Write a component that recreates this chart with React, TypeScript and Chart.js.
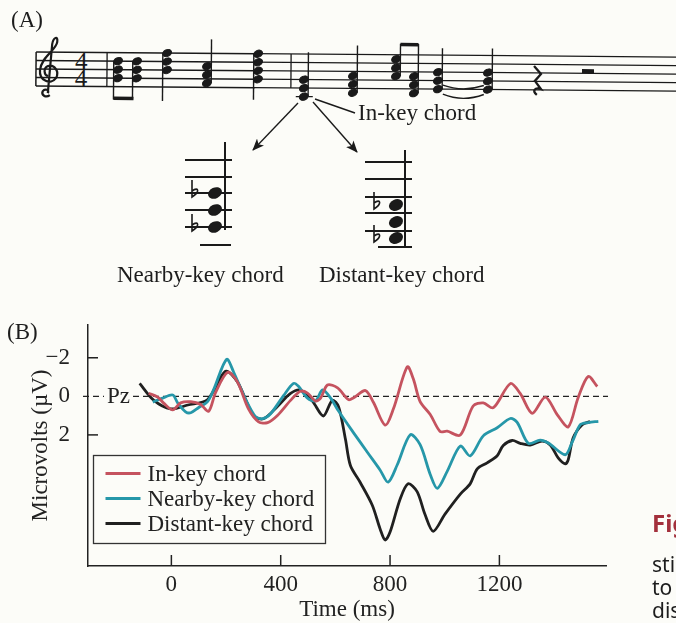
import React, { useEffect, useRef } from "react";
import { Chart, registerables } from "chart.js";

Chart.register(...registerables);

// ---------- data ----------
const seriesNames = ["In-key chord", "Nearby-key chord", "Distant-key chord"];
const seriesColors = ["#c5535f", "#2697a9", "#202020"];

const inKeyTime = [-83, -50, -28, 5, 34, 71, 107, 136, 162, 206, 242, 282, 319, 352, 388, 436, 472, 498, 527, 546, 571, 608, 648, 667, 710, 739, 782, 812, 863, 885, 910, 947, 983, 1009, 1057, 1104, 1141, 1178, 1240, 1276, 1320, 1368, 1412, 1452, 1488, 1525, 1558];
const inKeyUv = [-0.16, 0.04, 0.35, 0.7, 0.34, 0.28, 0.42, 0.78, -0.21, -1.25, -0.74, 0.65, 1.32, 1.36, 0.99, 0.21, -0.26, -0.17, 0.24, 0.09, -0.59, -0.44, 0.17, 0.07, -0.3, 0.31, 1.49, 0.66, -1.53, -0.91, 0.27, 0.94, 1.82, 1.81, 2.01, 0.5, 0.34, 0.59, -0.66, -0.15, 0.88, 0.04, 0.96, 1.58, 0.07, -1.03, -0.51];

const nearbyTime = [-68, -32, 5, 23, 52, 71, 100, 133, 155, 202, 228, 271, 308, 334, 363, 411, 447, 465, 498, 527, 553, 582, 611, 666, 717, 764, 793, 826, 874, 910, 947, 973, 1009, 1057, 1093, 1141, 1192, 1240, 1265, 1306, 1349, 1379, 1441, 1467, 1496, 1525, 1562];
const nearbyUv = [0.3, 0.09, -0.07, 0.34, 0.8, 0.85, 0.58, 0.26, -0.36, -1.92, -1.25, 0.13, 1.06, 1.16, 0.9, -0.05, -0.67, -0.52, 0.09, 0.24, -0.33, 0.08, 0.75, 1.88, 2.9, 3.83, 4.45, 3.56, 1.99, 2.51, 4.05, 4.77, 3.89, 2.58, 3.09, 2.05, 1.63, 1.15, 1.35, 2.44, 2.27, 2.42, 3.03, 2.35, 1.47, 1.36, 1.3];

const distantTime = [-116, -65, -3, 60, 133, 198, 242, 300, 337, 388, 436, 472, 516, 556, 589, 612, 637, 655, 691, 735, 764, 782, 800, 837, 866, 899, 928, 958, 1001, 1057, 1093, 1119, 1155, 1192, 1214, 1247, 1276, 1313, 1356, 1386, 1415, 1441, 1452, 1470, 1503, 1532];
const distantUv = [-0.67, 0.2, 0.65, 0.45, 0.16, -1.3, -0.74, 1.0, 1.16, 0.53, -0.15, -0.32, 0.25, 1.02, 0.2, 0.55, 2.24, 3.59, 4.47, 5.65, 6.89, 7.45, 7.04, 5.32, 4.53, 4.94, 6.13, 7.0, 6.11, 5.07, 4.54, 3.76, 3.45, 3.08, 2.55, 2.29, 2.44, 2.53, 2.32, 2.52, 3.19, 3.5, 3.28, 2.15, 1.47, 1.31];

const xTicks = [0, 400, 800, 1200];
const yTicks = [-2, 0, 2];
const xMin = -305;
const xMax = 1590;
const yMin = -3.7;
const yMax = 8.8;
const baselineLabel = "Pz";
const xTitle = "Time (ms)";
const yTitle = "Microvolts (\u00b5V)";

const BG = "#fcfcf8";
const INK = "#222";
const SERIF = "'Liberation Serif', 'Times New Roman', serif";

const extrasPlugin = {
  id: "extras",
  beforeDatasetsDraw(chart: any) {
    const { ctx, chartArea, scales } = chart;
    const y0 = scales.y.getPixelForValue(0);
    ctx.save();
    ctx.strokeStyle = INK;
    ctx.lineWidth = 1.3;
    ctx.setLineDash([6, 4]);
    ctx.beginPath();
    ctx.moveTo(chartArea.left - 5, y0);
    ctx.lineTo(chartArea.right + 2, y0);
    ctx.stroke();
    ctx.setLineDash([]);
    ctx.font = `23px ${SERIF}`;
    const w = ctx.measureText(baselineLabel).width;
    const lx = chartArea.left + 19;
    ctx.fillStyle = BG;
    ctx.fillRect(lx - 3, y0 - 6, w + 6, 12);
    ctx.fillStyle = INK;
    ctx.textBaseline = "middle";
    ctx.textAlign = "left";
    ctx.fillText(baselineLabel, lx, y0 + 1);
    ctx.restore();
  },
  afterDatasetsDraw(chart: any) {
    const { ctx, chartArea, scales } = chart;
    ctx.save();
    ctx.strokeStyle = INK;
    ctx.lineWidth = 1.5;
    // inward ticks
    xTicks.forEach((v) => {
      const x = scales.x.getPixelForValue(v);
      ctx.beginPath();
      ctx.moveTo(x, chartArea.bottom);
      ctx.lineTo(x, chartArea.bottom - 11);
      ctx.stroke();
    });
    yTicks.forEach((v) => {
      if (v === 0) return;
      const y = scales.y.getPixelForValue(v);
      ctx.beginPath();
      ctx.moveTo(chartArea.left, y);
      ctx.lineTo(chartArea.left + 10, y);
      ctx.stroke();
    });
    // legend box
    const bx = chartArea.left + 5.5;
    const by = chartArea.top + 130.5;
    const bw = 232;
    const bh = 88;
    ctx.fillStyle = BG;
    ctx.fillRect(bx, by, bw, bh);
    ctx.lineWidth = 1.3;
    ctx.strokeStyle = "#333";
    ctx.strokeRect(bx, by, bw, bh);
    ctx.font = `23px ${SERIF}`;
    ctx.textBaseline = "middle";
    ctx.textAlign = "left";
    chart.data.datasets.forEach((ds: any, i: number) => {
      const cy = by + 18 + i * 25;
      ctx.strokeStyle = ds.borderColor;
      ctx.lineWidth = 3;
      ctx.beginPath();
      ctx.moveTo(bx + 12, cy);
      ctx.lineTo(bx + 47, cy);
      ctx.stroke();
      ctx.fillStyle = INK;
      ctx.fillText(ds.label, bx + 54, cy + 1);
    });
    ctx.restore();
  },
};

function Notehead({ x, y, rx = 4.6, ry = 3.4 }: { x: number; y: number; rx?: number; ry?: number }) {
  return <ellipse cx={x} cy={y} rx={rx} ry={ry} transform={`rotate(-25 ${x} ${y})`} fill="#1a1a1a" />;
}

function Flat({ x, y }: { x: number; y: number }) {
  return (
    <path
      d={`M${x},${y - 13} L${x},${y + 4} C${x + 8},${y - 1} ${x + 7},${y - 7} ${x},${y - 2}`}
      stroke="#1a1a1a"
      strokeWidth={1.6}
      fill="none"
    />
  );
}

type ChordDef = { x: number; ys: number[]; stem: "up" | "down"; end: number };

const staffChords: ChordDef[] = [
  { x: 118, ys: [60.5, 69, 77.5], stem: "down", end: 99 },
  { x: 137, ys: [60.5, 69, 77.5], stem: "down", end: 99 },
  { x: 167, ys: [52, 60.5, 69], stem: "down", end: 100 },
  { x: 207, ys: [64.75, 73.25, 81.75], stem: "up", end: 38 },
  { x: 258, ys: [52, 60.5, 69, 77.5], stem: "down", end: 98 },
  { x: 304, ys: [77.5, 86, 94.5], stem: "up", end: 50 },
  { x: 353, ys: [73.25, 81.75, 90.25], stem: "up", end: 43 },
  { x: 396, ys: [56.25, 64.75, 73.25], stem: "up", end: 41 },
  { x: 414, ys: [73.25, 81.75, 90.25], stem: "up", end: 41 },
  { x: 438, ys: [69, 77.5, 86], stem: "up", end: 45 },
  { x: 488, ys: [69, 77.5, 86], stem: "up", end: 45 },
];

function Notation() {
  const staffYs = [52, 60.5, 69, 77.5, 86];
  return (
    <svg width={676} height={300} style={{ position: "absolute", left: 0, top: 0 }}>
      <defs>
        <marker id="ah" markerWidth={12} markerHeight={10} refX={11} refY={5} orient="auto" markerUnits="userSpaceOnUse">
          <path d="M0,0 L12,5 L0,10 L3,5 z" fill="#1a1a1a" />
        </marker>
      </defs>
      <g transform="rotate(0.45 36 69)" stroke="#1a1a1a">
        {staffYs.map((y) => (
          <line key={y} x1={36} x2={700} y1={y} y2={y} strokeWidth={1.3} />
        ))}
        <line x1={36} x2={36} y1={52} y2={86} strokeWidth={1.5} />
        <line x1={107} x2={107} y1={52} y2={86} strokeWidth={1.3} />
        <line x1={291} x2={291} y1={52} y2={86} strokeWidth={1.3} />
        {/* treble clef */}
        <path
          d="M50,95 C46,98 41,95 43,91 C45,88 50,90 48,93 M48,93 L52,44 C53,37 58,35 57,42 C56,50 41,57 40,70 C39,81 51,85 56,78 C60,71 54,64 48,66 C43,68 44,75 48,76"
          strokeWidth={2.2}
          fill="none"
        />
        <text x={75} y={69} fontFamily={SERIF} fontSize={25} fill="#1a1a1a" stroke="none">4</text>
        <text x={75} y={86} fontFamily={SERIF} fontSize={25} fill="#1a1a1a" stroke="none">4</text>
        {staffChords.map((c, i) => {
          const top = Math.min(...c.ys);
          const bot = Math.max(...c.ys);
          const sx = c.stem === "up" ? c.x + 4.3 : c.x - 4.3;
          return (
            <g key={i}>
              <line x1={sx} x2={sx} y1={c.stem === "up" ? bot : top} y2={c.end} strokeWidth={1.4} />
              {c.ys.map((y) => (
                <Notehead key={y} x={c.x} y={y} />
              ))}
            </g>
          );
        })}
        <line x1={296} x2={313} y1={94.5} y2={94.5} strokeWidth={1.3} />
        <rect x={113.7} y={96} width={20} height={3.5} fill="#1a1a1a" stroke="none" />
        <rect x={400.3} y={40} width={18} height={3.5} fill="#1a1a1a" stroke="none" />
        <path d="M443,91 Q463,99 484,91" strokeWidth={1.4} fill="none" />
        <path d="M443,82 Q463,89 484,82" strokeWidth={1.4} fill="none" />
        <path d="M534,62 L541,70 L535,77 L541,85 C535,83 532,87 537,91" strokeWidth={2.3} fill="none" />
        <rect x={582} y={64.75} width={12} height={4.25} fill="#1a1a1a" stroke="none" />
      </g>
      {/* pointers */}
      <line x1={315} y1={99} x2={355} y2={113} stroke="#1a1a1a" strokeWidth={1.4} />
      <line x1={298} y1={103} x2={253} y2={150} stroke="#1a1a1a" strokeWidth={1.4} markerEnd="url(#ah)" />
      <line x1={313} y1={102} x2={357} y2={152} stroke="#1a1a1a" strokeWidth={1.4} markerEnd="url(#ah)" />
      {/* nearby-key chord */}
      <g stroke="#1a1a1a">
        {[160, 177, 193, 210, 227].map((y) => (
          <line key={y} x1={185} x2={232} y1={y} y2={y} strokeWidth={2} />
        ))}
        <line x1={200} x2={231} y1={245} y2={245} strokeWidth={2} />
        <line x1={225} x2={225} y1={142} y2={230} strokeWidth={2} />
        <Flat x={192} y={193} />
        <Flat x={192} y={227} />
      </g>
      <Notehead x={215} y={193} rx={7.3} ry={5.4} />
      <Notehead x={215} y={210} rx={7.3} ry={5.4} />
      <Notehead x={215} y={227} rx={7.3} ry={5.4} />
      {/* distant-key chord */}
      <g stroke="#1a1a1a">
        {[162, 179, 197, 213, 231].map((y) => (
          <line key={y} x1={365} x2={412} y1={y} y2={y} strokeWidth={2} />
        ))}
        <line x1={378} x2={412} y1={247} y2={247} strokeWidth={2} />
        <line x1={405} x2={405} y1={150} y2={247} strokeWidth={2} />
        <Flat x={374} y={205} />
        <Flat x={374} y={238} />
      </g>
      <Notehead x={396} y={205} rx={7.3} ry={5.6} />
      <Notehead x={396} y={222} rx={7.3} ry={5.6} />
      <Notehead x={396} y={238} rx={7.3} ry={5.6} />
    </svg>
  );
}

function Labels() {
  const t = { fontFamily: SERIF, fontSize: 23, fill: "#1d1d1d" } as const;
  const s = { fontFamily: "'Noto Sans', 'Open Sans', sans-serif", fontSize: 21, fill: "#1d1d1d" } as const;
  return (
    <svg width={676} height={623} style={{ position: "absolute", left: 0, top: 0, pointerEvents: "none" }}>
      <text x={11} y={27} {...t}>(A)</text>
      <text x={358} y={120} {...t}>In-key chord</text>
      <text x={117} y={282} {...t}>Nearby-key chord</text>
      <text x={319} y={282} {...t}>Distant-key chord</text>
      <text x={7} y={339} {...t}>(B)</text>
      <text x={652} y={532} {...s} fontSize={24} fontWeight="bold" fill="#a3303c">Figure</text>
      <text x={652} y={572} {...s}>stimuli</text>
      <text x={652} y={595} {...s}>to the</text>
      <text x={652} y={618} {...s}>distant</text>
    </svg>
  );
}

export default function App() {
  const ref = useRef<HTMLCanvasElement>(null);

  useEffect(() => {
    const canvas = ref.current;
    if (!canvas) return;
    Chart.defaults.font.family = SERIF;
    Chart.defaults.font.size = 23;
    Chart.defaults.color = INK;
    const mk = (i: number, t: number[], v: number[]) => ({
      label: seriesNames[i],
      data: t.map((x, k) => ({ x, y: v[k] })),
      borderColor: seriesColors[i],
      backgroundColor: seriesColors[i],
      borderWidth: 2.8,
      pointRadius: 0,
      tension: 0.3,
      fill: false,
    });
    const chart = new Chart(canvas, {
      type: "line",
      data: {
        datasets: [mk(0, inKeyTime, inKeyUv), mk(1, nearbyTime, nearbyUv), mk(2, distantTime, distantUv)],
      },
      options: {
        animation: false,
        responsive: false,
        layout: { padding: { top: 25, right: 70, left: 0, bottom: 0 } },
        plugins: { legend: { display: false }, tooltip: { enabled: false } },
        scales: {
          x: {
            type: "linear",
            min: xMin,
            max: xMax,
            afterBuildTicks: (s: any) => {
              s.ticks = xTicks.map((v) => ({ value: v }));
            },
            afterFit: (s: any) => {
              s.height = 57;
            },
            grid: { display: false },
            border: { display: true, color: INK, width: 1.5 },
            ticks: {
              padding: -3,
              color: INK,
              font: { size: 23 },
              maxRotation: 0,
              autoSkip: false,
              callback: (v: any) => String(v),
            },
            title: { display: true, text: xTitle, color: INK, font: { size: 23 }, padding: { top: 0, bottom: -1 } },
          },
          y: {
            type: "linear",
            reverse: true,
            min: yMin,
            max: yMax,
            afterBuildTicks: (s: any) => {
              s.ticks = yTicks.map((v) => ({ value: v }));
            },
            afterFit: (s: any) => {
              s.width = 88;
            },
            grid: { display: false },
            border: { display: true, color: INK, width: 1.5 },
            ticks: {
              padding: 10,
              color: INK,
              font: { size: 23 },
              callback: (v: any) => (v < 0 ? "\u2212" + Math.abs(v) : String(v)),
            },
            title: { display: true, text: yTitle, color: INK, font: { size: 23 }, padding: { top: 27, bottom: 0 } },
          },
        },
      },
      plugins: [extrasPlugin],
    } as any);
    return () => chart.destroy();
  }, []);

  return (
    <div
      style={{
        position: "absolute",
        left: 0,
        top: 0,
        width: 676,
        height: 623,
        overflow: "hidden",
        background: BG,
      }}
    >
      <Notation />
      <canvas ref={ref} width={676} height={323} style={{ position: "absolute", left: 0, top: 300, width: 676, height: 323 }} />
      <Labels />
    </div>
  );
}
